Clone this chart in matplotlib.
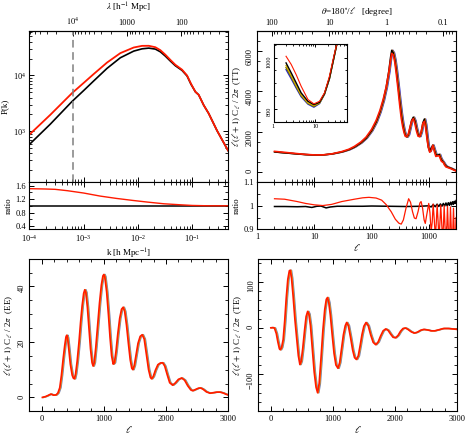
import numpy as np
import matplotlib
matplotlib.use("Agg")
import matplotlib.pyplot as plt
import matplotlib.ticker as mticker
import matplotlib.transforms as mtrans

plt.rcParams['font.family'] = ['Liberation Serif', 'DejaVu Serif']
plt.rcParams['mathtext.fontset'] = 'stix'
plt.rcParams['font.size'] = 6
plt.rcParams['axes.linewidth'] = 0.8
for a in ('xtick', 'ytick'):
    plt.rcParams[a + '.direction'] = 'in'
    plt.rcParams[a + '.major.size'] = 3.5
    plt.rcParams[a + '.minor.size'] = 2
    plt.rcParams[a + '.major.width'] = 0.7
    plt.rcParams[a + '.minor.width'] = 0.6
    plt.rcParams[a + '.major.pad'] = 2.5

RED = '#ff1a00'
ORANGE = '#ff9a00'
GOLD = '#d8b000'
OLIVE = '#707000'
BLUE = '#2828c8'
BLUEGRAY = '#7080b0'

# ---- matter power spectrum (k in h/Mpc)
pk_k = [1.0e-4, 2.44e-4, 6.1e-4, 1.0e-3, 1.53e-3, 2.69e-3, 4.73e-3, 8.35e-3, 1.19e-2, 1.58e-2,
        2.09e-2, 2.58e-2, 3.18e-2, 3.94e-2, 4.86e-2, 6.46e-2, 8.0e-2, 9.46e-2, 0.114, 0.131,
        0.162, 0.200, 0.285, 0.454]
pk_black = [578, 1343, 3404, 5344, 7943, 13330, 20650, 27170, 29850, 30740,
            29500, 26400, 22150, 18030, 14890, 12280, 9750, 6920, 5070, 4480,
            2925, 2080, 1025, 452]
pk_red = [867, 1974, 4800, 7320, 10560, 16930, 24990, 31520, 33730, 33810,
          31860, 28250, 23480, 18930, 15490, 12650, 9950, 7060, 5070, 4480,
          2925, 2080, 1025, 452]
lambda_mark = 1.0e4  # h^-1 Mpc, dashed line

ratio_k = [1e-4, 2e-4, 3e-4, 5e-4, 1e-3, 2e-3, 4e-3, 8e-3, 1.5e-2, 3e-2, 6e-2, 0.1, 0.2, 0.454]
ratio_red = [1.51, 1.50, 1.49, 1.45, 1.38, 1.29, 1.22, 1.16, 1.11, 1.06, 1.03, 1.01, 1.0, 1.0]
ratio_black = [1.0, 1.0, 1.0, 1.0, 1.0, 1.0, 1.0, 1.0, 1.0, 1.0, 1.0, 1.0, 1.0, 1.0]

# ---- TT spectrum
tt_l = [2, 3, 4, 5, 7, 10, 14, 20, 30, 40, 50, 65, 80, 100, 120, 140, 160, 180, 200, 215,
        225, 240, 255, 270, 290, 310, 330, 350, 370, 390, 415, 440, 470, 500, 536, 570, 610,
        650, 694, 740, 790, 839, 880, 930, 980, 1040, 1100, 1177, 1250, 1330, 1400, 1480,
        1530, 1600, 1650, 1720, 1790, 1900, 2000, 2200, 2500, 2800, 3000]
tt_black = [1000, 955, 925, 900, 870, 850, 855, 900, 1000, 1110, 1240, 1450, 1680, 2050, 2480,
            2980, 3550, 4200, 5000, 5700, 6030, 5900, 5550, 5050, 4300, 3550, 2900, 2400, 2050,
            1820, 1740, 1850, 2200, 2550, 2720, 2550, 2150, 1850, 1760, 2000, 2450, 2630, 2350,
            1750, 1250, 1020, 1180, 1340, 1100, 880, 820, 870, 880, 720, 640, 560, 500, 380,
            300, 240, 180, 110, 70]
tt_red = [1030, 982, 945, 918, 878, 854, 856, 905, 1018, 1135, 1275, 1495, 1735, 2120, 2560,
          3060, 3620, 4220, 4950, 5560, 5880, 5800, 5430, 4880, 4100, 3330, 2680, 2250, 1950,
          1770, 1760, 1900, 2230, 2520, 2650, 2420, 2040, 1780, 1760, 2030, 2420, 2520, 2210,
          1680, 1240, 990, 1060, 1330, 1040, 780, 800, 820, 800, 660, 560, 510, 490, 340,
          260, 220, 160, 95, 60]

# inset, low multipoles
ins_l = [2.0, 2.66, 3.5, 4.6, 6.7, 9.3, 12.7, 16.7, 22, 28, 33.6]
ins_red = [1005, 973, 933, 888, 836, 819, 829, 862, 927, 1005, 1058]
ins_black = [979, 940, 901, 862, 829, 816, 825, 859, 920, 999, 1058]
ins_gold = [969, 930, 891, 855, 823, 812, 823, 858, 919, 998, 1058]
ins_olive = [961, 924, 886, 851, 821, 809, 822, 857, 918, 997, 1058]
ins_blue = [953, 917, 881, 847, 818, 806, 820, 856, 917, 997, 1058]

# TT ratio
tr_l_red = [2, 3, 5, 7, 10, 14, 20, 30, 50, 70, 90, 120, 150, 180, 220, 260, 300, 330, 360,
            400, 445, 480, 520, 560, 600, 650, 700, 735, 780, 830, 870, 920, 1000, 1050, 1100,
            1150, 1194, 1250, 1300, 1350, 1403, 1460, 1510, 1570, 1623, 1690, 1750, 1810, 1861,
            1930, 2000, 2070, 2129, 2200, 2270, 2340, 2400, 2480, 2560, 2640, 2711, 2800, 2880,
            2950, 3000]
tr_red = [1.030, 1.028, 1.018, 1.010, 1.004, 1.001, 1.006, 1.018, 1.028, 1.034, 1.036, 1.033,
          1.024, 1.005, 0.975, 0.943, 0.926, 0.922, 0.94, 0.99, 1.03, 1.015, 0.975, 0.948, 0.945,
          0.975, 1.012, 1.018, 0.99, 0.94, 0.925, 0.96, 1.01, 0.97, 0.89, 0.93, 1.008, 0.94, 0.87,
          0.92, 1.005, 0.93, 0.86, 0.93, 1.003, 0.92, 0.85, 0.92, 1.0, 0.91, 0.84, 0.91, 0.998,
          0.90, 0.83, 0.90, 0.995, 0.90, 0.82, 0.90, 0.99, 0.88, 0.80, 0.88, 0.95]
tr_l_black = [2, 3, 5, 7, 9, 11, 13, 16, 19, 25, 40, 70, 100, 200, 400, 700, 1000, 1100, 1200,
              1300, 1400, 1500, 1600, 1700, 1800, 1900, 2000, 2100, 2200, 2300, 2400, 2500, 2600,
              2700, 2800, 2900, 3000]
tr_black = [0.997, 0.997, 0.996, 0.997, 0.993, 0.998, 0.999, 0.991, 0.995, 0.998, 0.998, 0.998,
            0.999, 0.998, 0.997, 0.998, 1.0, 0.995, 1.005, 0.996, 1.007, 0.997, 1.008, 0.998,
            1.01, 0.999, 1.012, 1.0, 1.013, 1.002, 1.015, 1.004, 1.017, 1.006, 1.019, 1.01, 1.022]

# ---- EE spectrum
ee_l = [10, 60, 100, 145, 190, 230, 260, 290, 317, 345, 370, 390, 402, 415, 435, 460, 490, 510,
        527, 545, 570, 600, 625, 650, 675, 693, 710, 735, 760, 785, 810, 827, 845, 870, 900, 930,
        960, 985, 1000, 1015, 1045, 1075, 1100, 1125, 1150, 1170, 1195, 1225, 1255, 1285, 1311,
        1335, 1365, 1395, 1425, 1450, 1467, 1490, 1520, 1550, 1585, 1618, 1650, 1685, 1720, 1750,
        1768, 1795, 1830, 1870, 1910, 1946, 1980, 2020, 2060, 2107, 2150, 2200, 2252, 2300, 2350,
        2400, 2429, 2470, 2520, 2558, 2600, 2650, 2710, 2760, 2820, 2871, 2920, 2970, 3000]
ee_d = [0.0, 0.3, 0.7, 1.2, 0.8, 0.9, 1.6, 3.5, 8.0, 14.0, 18.7, 21.8, 22.4, 21.5, 17.5, 12.0,
        8.0, 6.9, 6.7, 8.5, 13.0, 20.0, 27.0, 33.0, 37.5, 38.8, 37.8, 32.5, 25.0, 17.5, 12.5, 11.3,
        12.5, 18.0, 26.0, 34.0, 40.5, 43.8, 44.3, 43.5, 38.0, 29.5, 21.5, 15.0, 12.0, 12.5, 16.5,
        23.0, 28.5, 31.8, 32.5, 31.0, 26.0, 19.5, 13.5, 10.5, 10.0, 11.5, 15.5, 19.5, 22.0, 22.6,
        21.0, 15.5, 10.0, 7.2, 6.7, 7.5, 9.8, 11.8, 12.4, 12.5, 11.3, 8.2, 5.3, 4.4, 5.2, 6.5, 7.0,
        6.2, 4.2, 2.7, 2.4, 2.8, 3.3, 3.4, 2.9, 2.0, 1.5, 1.7, 1.9, 1.9, 1.6, 1.1, 0.9]

# ---- TE spectrum
te_l = [2, 30, 60, 90, 115, 140, 155, 175, 200, 225, 250, 275, 300, 315, 335, 360, 390, 420,
        445, 470, 490, 515, 545, 570, 595, 615, 640, 670, 700, 730, 755, 780, 810, 840, 870, 895,
        914, 935, 960, 990, 1020, 1050, 1083, 1110, 1140, 1170, 1200, 1223, 1250, 1285, 1320,
        1350, 1380, 1410, 1440, 1470, 1500, 1535, 1570, 1610, 1650, 1690, 1730, 1770, 1810, 1850,
        1890, 1930, 1970, 2010, 2050, 2090, 2130, 2170, 2210, 2260, 2310, 2360, 2410, 2460, 2520,
        2580, 2640, 2700, 2780, 2860, 2940, 3000]
te_d = [0.5, 1, 0, -12, -30, -45, -47, -42, -25, 15, 65, 105, 124, 125, 108, 70, 18, -25, -60,
        -79, -72, -45, -5, 25, 36, 30, 5, -45, -95, -128, -140, -120, -65, -5, 40, 62, 66, 55, 28,
        -15, -55, -80, -87, -75, -45, -15, 5, 12, 5, -20, -48, -64, -68, -60, -38, -14, 4, 12, 5,
        -15, -31, -36, -30, -17, -6, -2, -5, -13, -20, -21, -16, -7, -1, 0, -3, -8, -11, -9, -5,
        -3, -4, -6, -6, -4, -1, -1, -2, -3]


def g(v, pos):
    return '%g' % v


def shifted(ax, dx):
    return mtrans.offset_copy(ax.transData, fig=fig, x=dx, y=0, units='dots')


def flip(x):
    x = np.asarray(x, dtype=float)
    with np.errstate(divide='ignore', invalid='ignore'):
        return 2 * np.pi / x


def theta(x):
    x = np.asarray(x, dtype=float)
    with np.errstate(divide='ignore', invalid='ignore'):
        return 180.0 / x


fig = plt.figure(figsize=(4.69, 4.36), dpi=100)

# ================= P(k)
ax_pk = fig.add_axes([0.0625, 0.5819, 0.4237, 0.3477])
ax_pk.plot(pk_k, pk_black, color='k', lw=1.2)
ax_pk.plot(pk_k, pk_red, color=RED, lw=1.3)
ax_pk.axvline(2 * np.pi / lambda_mark, color='#808080', ls=(0, (5, 3)), lw=1.1)
ax_pk.set_xscale('log')
ax_pk.set_yscale('log')
ax_pk.set_xlim(1e-4, 0.454)
ax_pk.set_ylim(122, 6.3e4)
ax_pk.tick_params(which='both', top=False, right=True, labelbottom=False)
ax_pk.set_ylabel('P(k)', fontsize=6.5, labelpad=3)
sec = ax_pk.secondary_xaxis('top', functions=(flip, flip))
sec.set_xticks([1e4, 1e3, 1e2], labels=[r'$10^4$', '1000', '100'])
sec.xaxis.set_minor_locator(mticker.LogLocator(base=10, subs=np.arange(2, 10), numticks=30))
sec.xaxis.set_minor_formatter(mticker.NullFormatter())
sec.tick_params(which='both', direction='in')
sec.set_xlabel(r'$\lambda$ [h$^{-1}$ Mpc]', fontsize=6.5, labelpad=4)

ax_pkr = fig.add_axes([0.0625, 0.4741, 0.4237, 0.1078])
ax_pkr.plot(ratio_k, ratio_black, color='k', lw=1.1)
ax_pkr.plot(ratio_k, ratio_red, color=RED, lw=1.0)
ax_pkr.set_xscale('log')
ax_pkr.set_xlim(1e-4, 0.454)
ax_pkr.set_ylim(0.3, 1.7)
ax_pkr.yaxis.set_major_locator(mticker.FixedLocator([0.4, 0.8, 1.2, 1.6]))
ax_pkr.yaxis.set_minor_locator(mticker.MultipleLocator(0.2))
ax_pkr.tick_params(which='both', top=True, right=True)
ax_pkr.set_ylabel('ratio', fontsize=6.5, labelpad=2)
ax_pkr.set_xlabel(r'k [h Mpc$^{-1}$]', fontsize=6.5, labelpad=2)

# ================= TT
ax_tt = fig.add_axes([0.5486, 0.5819, 0.4237, 0.3477])
ax_tt.plot(tt_l, tt_black, color=BLUE, lw=1.1, transform=shifted(ax_tt, 1.2))
ax_tt.plot(tt_l, tt_black, color=ORANGE, lw=1.1, transform=shifted(ax_tt, 0.6))
ax_tt.plot(tt_l, tt_black, color='k', lw=1.1)
ax_tt.plot(tt_l, tt_red, color=RED, lw=1.2)
ax_tt.set_xscale('log')
ax_tt.set_xlim(1, 3000)
ax_tt.set_ylim(-500, 7000)
ax_tt.yaxis.set_major_locator(mticker.MultipleLocator(2000))
ax_tt.yaxis.set_minor_locator(mticker.MultipleLocator(500))
ax_tt.tick_params(which='both', top=False, right=True, labelbottom=False)
ax_tt.tick_params(axis='y', labelrotation=90)
ax_tt.set_ylabel(r'$\ell(\ell+1)$ C$_\ell$ / 2$\pi$  (TT)', fontsize=6.5, labelpad=2)
sec2 = ax_tt.secondary_xaxis('top', functions=(theta, theta))
sec2.set_xticks([100, 10, 1, 0.1], labels=['100', '10', '1', '0.1'])
sec2.xaxis.set_minor_locator(mticker.LogLocator(base=10, subs=np.arange(2, 10), numticks=30))
sec2.xaxis.set_minor_formatter(mticker.NullFormatter())
sec2.tick_params(which='both', direction='in')
sec2.set_xlabel(r'$\theta$=180$^{\circ}$/$\ell$   [degree]', fontsize=6.5, labelpad=4)

ax_in = fig.add_axes([0.5832, 0.7213, 0.156, 0.1778])
ax_in.plot(ins_l, ins_blue, color=BLUE, lw=1.0)
ax_in.plot(ins_l, ins_olive, color=OLIVE, lw=1.0)
ax_in.plot(ins_l, ins_gold, color=GOLD, lw=1.0)
ax_in.plot(ins_l, ins_black, color='k', lw=1.0)
ax_in.plot(ins_l, ins_red, color=RED, lw=0.8)
ax_in.set_xscale('log')
ax_in.set_xlim(1, 57)
ax_in.set_ylim(750, 1053)
ax_in.set_xticks([1, 10], labels=['1', '10'])
ax_in.yaxis.set_major_locator(mticker.FixedLocator([800, 1000]))
ax_in.yaxis.set_minor_locator(mticker.MultipleLocator(50))
ax_in.tick_params(which='both', top=True, right=True, labelsize=4.5, pad=1.5)
ax_in.tick_params(which='major', length=2.5)
ax_in.tick_params(which='minor', length=1.5)
ax_in.tick_params(axis='y', labelrotation=90)

ax_ttr = fig.add_axes([0.5486, 0.4741, 0.4237, 0.1078])
ax_ttr.plot(tr_l_black, tr_black, color='k', lw=1.1)
ax_ttr.plot(tr_l_red, tr_red, color=RED, lw=0.9)
ax_ttr.set_xscale('log')
ax_ttr.set_xlim(1, 3000)
ax_ttr.set_ylim(0.9, 1.1)
ax_ttr.yaxis.set_major_locator(mticker.FixedLocator([0.9, 1.0, 1.1]))
ax_ttr.yaxis.set_major_formatter(mticker.FuncFormatter(g))
ax_ttr.yaxis.set_minor_locator(mticker.MultipleLocator(0.05))
ax_ttr.xaxis.set_major_formatter(mticker.FuncFormatter(g))
ax_ttr.tick_params(which='both', top=True, right=True)
ax_ttr.set_ylabel('ratio', fontsize=6.5, labelpad=2)
ax_ttr.set_xlabel(r'$\ell$', fontsize=7.5, labelpad=1)

# ================= EE
ax_ee = fig.add_axes([0.0625, 0.0567, 0.4237, 0.35])
ax_ee.plot(ee_l, ee_d, color=BLUEGRAY, lw=1.1, transform=shifted(ax_ee, 1.2))
ax_ee.plot(ee_l, ee_d, color=ORANGE, lw=1.0, transform=shifted(ax_ee, 0.6))
ax_ee.plot(ee_l, ee_d, color=RED, lw=1.2)
ax_ee.set_xlim(-200, 3000)
ax_ee.set_ylim(-5, 50)
ax_ee.xaxis.set_major_locator(mticker.MultipleLocator(1000))
ax_ee.xaxis.set_minor_locator(mticker.MultipleLocator(200))
ax_ee.yaxis.set_major_locator(mticker.MultipleLocator(20))
ax_ee.yaxis.set_minor_locator(mticker.MultipleLocator(5))
ax_ee.tick_params(which='both', top=True, right=True)
ax_ee.tick_params(axis='y', labelrotation=90)
ax_ee.set_ylabel(r'$\ell(\ell+1)$ C$_\ell$ / 2$\pi$  (EE)', fontsize=6.5, labelpad=2)
ax_ee.set_xlabel(r'$\ell$', fontsize=7.5, labelpad=1)

# ================= TE
ax_te = fig.add_axes([0.5507, 0.0567, 0.4237, 0.35])
ax_te.plot(te_l, te_d, color=BLUEGRAY, lw=1.1, transform=shifted(ax_te, 1.2))
ax_te.plot(te_l, te_d, color=ORANGE, lw=1.0, transform=shifted(ax_te, 0.6))
ax_te.plot(te_l, te_d, color=RED, lw=1.2)
ax_te.set_xlim(-200, 3000)
ax_te.set_ylim(-180, 150)
ax_te.xaxis.set_major_locator(mticker.MultipleLocator(1000))
ax_te.xaxis.set_minor_locator(mticker.MultipleLocator(200))
ax_te.yaxis.set_major_locator(mticker.MultipleLocator(100))
ax_te.yaxis.set_minor_locator(mticker.MultipleLocator(20))
ax_te.tick_params(which='both', top=True, right=True)
ax_te.tick_params(axis='y', labelrotation=90)
ax_te.set_ylabel(r'$\ell(\ell+1)$ C$_\ell$ / 2$\pi$  (TE)', fontsize=6.5, labelpad=2)
ax_te.set_xlabel(r'$\ell$', fontsize=7.5, labelpad=1)

fig.savefig('out.png', dpi=100)
